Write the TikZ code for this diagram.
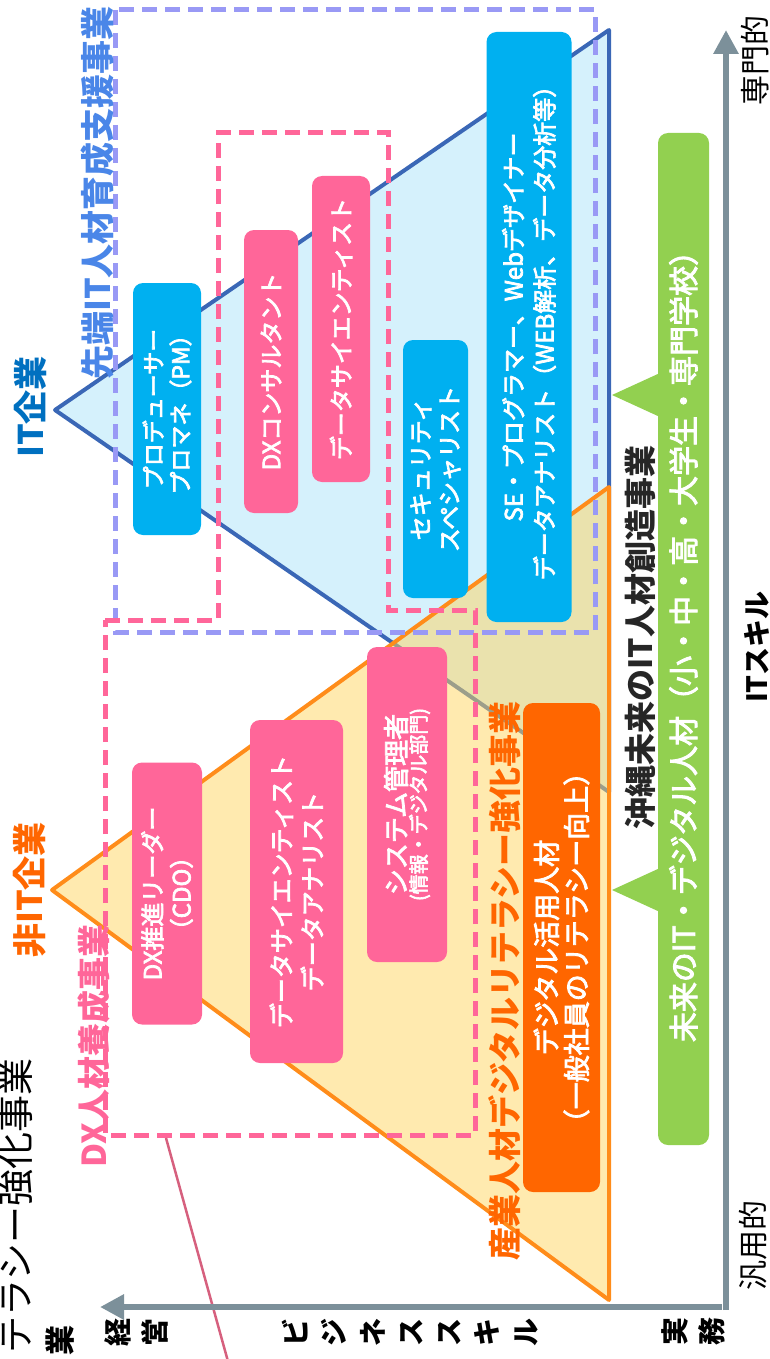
\documentclass[tikz,border=0pt]{standalone}
\usepackage{fontspec}
\setmainfont{Noto Sans CJK JP}
\newfontfamily\medjp{Noto Sans CJK JP}[FakeBold=3]
\usetikzlibrary{arrows.meta}
\definecolor{cyanbox}{RGB}{0,176,240}
\definecolor{pinkbox}{RGB}{255,102,153}
\definecolor{orangebox}{RGB}{255,102,0}
\definecolor{greenbox}{RGB}{146,208,80}
\definecolor{axisgray}{RGB}{124,144,154}
\definecolor{itblue}{RGB}{0,112,192}
\definecolor{triblue}{RGB}{58,103,182}
\definecolor{trifill}{RGB}{213,241,252}
\definecolor{oline}{RGB}{255,140,26}
\definecolor{ofill}{RGB}{255,213,95}
\definecolor{lav}{RGB}{153,153,245}
\definecolor{sentan}{RGB}{74,134,232}
\definecolor{pinkline}{RGB}{214,96,126}
\definecolor{darktext}{RGB}{38,38,38}
\begin{document}
\begin{tikzpicture}[x=1pt,y=-1pt,
  rbox/.style={rotate=90, rounded corners=10pt, inner sep=0pt, align=center, text=white},
  vlabel/.style={rotate=90, inner sep=0pt, align=center},
  axisline/.style={axisgray, line width=6pt, -{Triangle[length=24pt,width=24pt]}},
  dashlav/.style={lav, line width=5pt, dash pattern=on 15pt off 8pt},
  dashpink/.style={pinkbox, line width=5pt, dash pattern=on 15pt off 8pt},
  fz/.style 2 args={font=\fontsize{#1}{#2}\selectfont},
  mz/.style 2 args={font=\medjp\fontsize{#1}{#2}\selectfont},
  bfz/.style 2 args={font=\bfseries\fontsize{#1}{#2}\selectfont}
]
\useasboundingbox (0,0) rectangle (770,1359);

% triangles
\path[fill=trifill, draw=triblue, line width=4pt, line join=round] (55,410) -- (609,30) -- (609,792) -- cycle;
\path[fill=ofill, fill opacity=0.5, draw=oline, line width=4pt, line join=round] (52,890) -- (609,487) -- (609,1300) -- cycle;

% dashed groups
\draw[dashlav] (115,10) rectangle (595,632);
\draw[dashpink] (105,620) -- (218,620) -- (218,133) -- (388,133) -- (388,610) -- (475,610) -- (475,1135) -- (105,1135) -- cycle;

% connector off page
\coordinate (plA) at (166,1138);
\coordinate (plB) at (229,1365);
\draw[pinkline, line width=2.5pt] (plA) -- (plB);

% axes
\coordinate (hx0) at (722,1307);
\coordinate (hx1) at (100,1307);
\coordinate (vy0) at (726,1310);
\coordinate (vy1) at (726,30);
\draw[axisline] (hx0) -- (hx1);
\draw[axisline] (vy0) -- (vy1);

% green triangles
\fill[greenbox] (612,395) -- (660,373) -- (660,417) -- cycle;
\fill[greenbox] (612,890) -- (660,868) -- (660,912) -- cycle;

% boxes
\node[rbox, fill=cyanbox, minimum width=252pt, minimum height=68pt, mz={23}{27}] (pm) at (167,409) {プロデューサー\\プロマネ（PM）};
\node[rbox, fill=cyanbox, minimum width=258pt, minimum height=65pt, mz={24}{29}] (sec) at (435.5,469) {セキュリティ\\スペシャリスト};
\node[rbox, fill=cyanbox, minimum width=590pt, minimum height=85pt, mz={24}{31}] (se) at (529,327) {SE・プログラマー、Webデザイナー\\データアナリスト（WEB解析、データ分析等）};
\node[rbox, fill=pinkbox, minimum width=283pt, minimum height=54pt, mz={24}{29}] (dxc) at (271,371.5) {DXコンサルタント};
\node[rbox, fill=pinkbox, minimum width=306pt, minimum height=58pt, mz={24}{29}] (ds) at (341,329) {データサイエンティスト};
\node[rbox, fill=pinkbox, minimum width=262pt, minimum height=70pt, mz={24}{29}] (dxl) at (167,893.5) {DX推進リーダー\\（CDO）};
\node[rbox, fill=pinkbox, minimum width=343pt, minimum height=93pt, mz={25}{31}] (dsa) at (296.5,891.5) {データサイエンティスト\\データアナリスト};
\node[rbox, fill=pinkbox, minimum width=315pt, minimum height=80pt, font=\medjp] (sys) at (407,804.5) {{\fontsize{26}{30}\selectfont システム管理者}\\{\fontsize{20}{24}\selectfont (情報・デジタル部門)}};
\node[rbox, fill=orangebox, minimum width=489pt, minimum height=77pt, mz={27}{30}] (lit) at (561.5,947.5) {デジタル活用人材\\（一般社員のリテラシー向上）};
\node[rbox, fill=greenbox, minimum width=1012pt, minimum height=51pt, mz={30}{36}] (mirai) at (683.5,639) {未来のIT・デジタル人材（小・中・高・大学生・専門学校）};

% labels
\node[vlabel, text=itblue, bfz={34}{40}] (itc) at (30,407) {IT企業};
\node[vlabel, text=orangebox, bfz={34}{40}] (nonit) at (30,890) {非IT企業};
\node[vlabel, text=sentan, bfz={34}{40}, anchor=west] (sentanlbl) at (98,380) {先端IT人材育成支援事業};
\node[vlabel, text=pinkbox, bfz={33}{40}] (dxlbl) at (94,1046) {DX人材養成事業};
\node[vlabel, text=orangebox, bfz={33}{40}] (sangyo) at (505,981) {産業人材デジタルリテラシー強化事業};
\node[vlabel, text=darktext, bfz={32}{40}] (okinawa) at (640,637.5) {沖縄未来のIT人材創造事業};
\node[vlabel, anchor=east, fz={37}{42}] (cutlbl) at (16,1058) {テラシー強化事業};
\node[vlabel, bfz={30}{36}] (cutgyo) at (60,1340) {業};

% axis labels
\node[vlabel, bfz={28}{37}] (keiei) at (136.5,1332) {経\\営};
\node[vlabel, bfz={28}{38.3}] (biz) at (410,1332) {ビ\\ジ\\ネ\\ス\\ス\\キ\\ル};
\node[vlabel, bfz={28}{37}] (jitsumu) at (693.5,1331) {実\\務};
\node[vlabel, fz={30}{36}] (senmon) at (755,61) {専門的};
\node[vlabel, fz={30}{36}] (hanyo) at (753,1245) {汎用的};
\node[vlabel, bfz={28}{34}] (itskill) at (757,647) {ITスキル};
\end{tikzpicture}
\end{document}
